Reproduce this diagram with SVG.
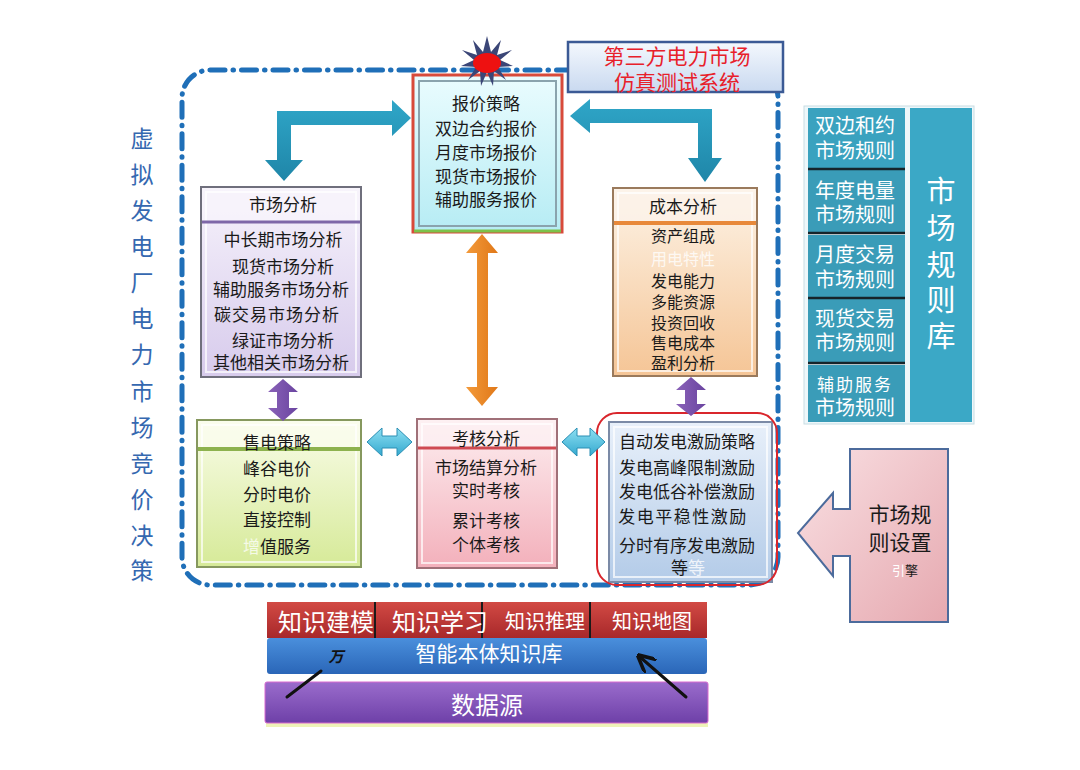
<svg xmlns="http://www.w3.org/2000/svg" width="1080" height="770" viewBox="0 0 1080 770">
<defs>
<style>
text{font-family:"Noto Sans CJK SC","Noto Sans",sans-serif;text-anchor:middle;dominant-baseline:central}
.t{font-size:17px;fill:#1a1a1a}
.c{font-size:16px;fill:#1a1a1a}
.w{fill:#ffffff}
.v{font-size:23px;fill:#3568b0}
.frame{fill:none;stroke:#1f6fb8;stroke-width:5;stroke-linecap:round;stroke-dasharray:15 8 0.5 8}
.ob{stroke:#6f6f7c;stroke-width:2}
.ib{fill:none;stroke:#ffffff;stroke-opacity:0.7;stroke-width:2}
.lib{font-size:20px;fill:#ffffff}
.big{font-size:29px;fill:#ffffff}
</style>
<linearGradient id="gCyan" x1="0" y1="0" x2="0" y2="1"><stop offset="0" stop-color="#eafcfe"/><stop offset="1" stop-color="#b6ecf4"/></linearGradient>
<linearGradient id="gPurple" x1="0" y1="0" x2="0" y2="1"><stop offset="0" stop-color="#f6f2fb"/><stop offset="1" stop-color="#d7cbec"/></linearGradient>
<linearGradient id="gPeach" x1="0" y1="0" x2="0" y2="1"><stop offset="0" stop-color="#fdf3e6"/><stop offset="1" stop-color="#f5c596"/></linearGradient>
<linearGradient id="gGreen" x1="0" y1="0" x2="0" y2="1"><stop offset="0" stop-color="#f9fce8"/><stop offset="1" stop-color="#d6ea98"/></linearGradient>
<linearGradient id="gPink" x1="0" y1="0" x2="0" y2="1"><stop offset="0" stop-color="#fdeef0"/><stop offset="1" stop-color="#f3b0bb"/></linearGradient>
<linearGradient id="gBlue" x1="0" y1="0" x2="0" y2="1"><stop offset="0" stop-color="#e8f0fa"/><stop offset="1" stop-color="#b3cbe8"/></linearGradient>
<linearGradient id="gTitle" x1="0" y1="0" x2="0" y2="1"><stop offset="0" stop-color="#f4f8fd"/><stop offset="1" stop-color="#c9d9f0"/></linearGradient>
<linearGradient id="gSet" x1="0" y1="0" x2="1" y2="1"><stop offset="0" stop-color="#f9e0e3"/><stop offset="1" stop-color="#e6a9b0"/></linearGradient>
<linearGradient id="gRed" x1="0" y1="0" x2="0" y2="1"><stop offset="0" stop-color="#d24a44"/><stop offset="1" stop-color="#a8282a"/></linearGradient>
<linearGradient id="gKB" x1="0" y1="0" x2="0" y2="1"><stop offset="0" stop-color="#4a8fdc"/><stop offset="1" stop-color="#2a66b8"/></linearGradient>
<linearGradient id="gDS" x1="0" y1="0" x2="0" y2="1"><stop offset="0" stop-color="#9a6ccc"/><stop offset="1" stop-color="#6e40a8"/></linearGradient>
<linearGradient id="gTeal" x1="0" y1="0" x2="0" y2="1"><stop offset="0" stop-color="#2fa6c8"/><stop offset="1" stop-color="#1f86a8"/></linearGradient>
<linearGradient id="gOr" x1="0" y1="0" x2="1" y2="0"><stop offset="0" stop-color="#f39a3a"/><stop offset="1" stop-color="#e07818"/></linearGradient>
<linearGradient id="gVi" x1="0" y1="0" x2="1" y2="0"><stop offset="0" stop-color="#8a62b8"/><stop offset="1" stop-color="#6a44a0"/></linearGradient>
<linearGradient id="gSky" x1="0" y1="0" x2="0" y2="1"><stop offset="0" stop-color="#8ddff2"/><stop offset="1" stop-color="#34a9cf"/></linearGradient>
<marker id="pen" viewBox="0 0 10 10" refX="8" refY="5" markerWidth="6" markerHeight="6" orient="auto"><path d="M0,0 L10,5 L0,10" fill="none" stroke="#111" stroke-width="2"/></marker>
</defs>
<rect width="1080" height="770" fill="#ffffff"/>

<!-- dashed frame -->
<rect class="frame" x="182" y="70" width="596" height="515" rx="28"/>

<!-- left vertical title -->
<g id="vtitle">
<text class="v"><tspan x="142" y="137">虚</tspan><tspan x="142" y="173">拟</tspan><tspan x="142" y="209">发</tspan><tspan x="142" y="245">电</tspan><tspan x="142" y="281">厂</tspan><tspan x="142" y="317">电</tspan><tspan x="142" y="353">力</tspan><tspan x="142" y="390">市</tspan><tspan x="142" y="426">场</tspan><tspan x="142" y="462">竞</tspan><tspan x="142" y="498">价</tspan><tspan x="142" y="534">决</tspan><tspan x="142" y="569">策</tspan></text>
</g>

<!-- 报价策略 -->
<g id="bid">
<rect x="413" y="75" width="149" height="157" fill="url(#gCyan)" stroke="#d84a3a" stroke-width="3"/>
<line x1="414" y1="231" x2="561" y2="231" stroke="#7cc24a" stroke-width="3"/>
<rect x="419" y="81" width="137" height="145" fill="none" stroke="#8aa3ad" stroke-width="2"/>
<text class="t"><tspan x="486" y="102">报价策略</tspan><tspan x="486" y="127">双边合约报价</tspan><tspan x="486" y="151">月度市场报价</tspan><tspan x="486" y="175">现货市场报价</tspan><tspan x="486" y="198">辅助服务报价</tspan></text>
</g>

<!-- star -->
<g id="star">
<polygon fill="#3b4677" points="487,36 491,52 501,40 497,55 512,50 500,60 513,66 498,67 506,80 494,71 493,86 487,72 481,86 480,71 468,80 476,67 461,66 474,60 462,50 477,55 473,40 483,52"/>
<ellipse cx="487" cy="63" rx="14" ry="10" fill="#ee1111"/>
</g>

<!-- title -->
<g id="title">
<rect x="568" y="42" width="215" height="50" fill="url(#gTitle)" stroke="#3b5a95" stroke-width="2.5"/>
<text style="font-size:21px;fill:#e8202a"><tspan x="677" y="55">第三方电力市场</tspan><tspan x="677" y="81">仿真测试系统</tspan></text>
</g>

<!-- 市场分析 -->
<g id="market">
<rect x="201" y="187" width="160" height="190" fill="url(#gPurple)" class="ob"/>
<rect x="201" y="187" width="160" height="34" fill="#f7f4fb" opacity="0.8"/>
<rect x="206" y="192" width="150" height="180" class="ib"/>
<line x1="202" y1="222" x2="360" y2="222" stroke="#7e67a8" stroke-width="3"/>
<rect x="201" y="187" width="160" height="190" fill="none" class="ob"/>
<text class="t" x="283" y="203">市场分析</text>
<text class="t"><tspan x="283" y="238">中长期市场分析</tspan><tspan x="283" y="265">现货市场分析</tspan><tspan x="281" y="288">辅助服务市场分析</tspan><tspan x="277" y="313" letter-spacing="1">碳交易市场分析</tspan><tspan x="283" y="339">绿证市场分析</tspan><tspan x="281" y="361">其他相关市场分析</tspan></text>
</g>

<!-- 成本分析 -->
<g id="cost">
<rect x="613" y="188" width="144" height="188" fill="url(#gPeach)" class="ob"/>
<rect x="613" y="188" width="144" height="34" fill="#fbf3ea" opacity="0.8"/>
<rect x="618" y="193" width="134" height="178" class="ib"/>
<line x1="614" y1="223" x2="756" y2="223" stroke="#e8893a" stroke-width="4"/>
<rect x="613" y="188" width="144" height="188" fill="none" stroke="#9a7a5c" stroke-width="2"/>
<text class="t" x="683" y="205">成本分析</text>
<text class="c"><tspan x="683" y="235">资产组成</tspan><tspan x="683" y="258" style="fill:#ffffff;fill-opacity:0.8">用电特性</tspan><tspan x="683" y="280">发电能力</tspan><tspan x="683" y="301">多能资源</tspan><tspan x="683" y="322">投资回收</tspan><tspan x="683" y="342">售电成本</tspan><tspan x="683" y="362">盈利分析</tspan></text>
</g>

<!-- 售电策略 -->
<g id="retail">
<rect x="197" y="420" width="164" height="147" fill="url(#gGreen)" class="ob"/>
<rect x="197" y="420" width="164" height="29" fill="#fafcee" opacity="0.8"/>
<rect x="202" y="425" width="154" height="137" class="ib"/>
<line x1="198" y1="449" x2="360" y2="449" stroke="#8db24e" stroke-width="4"/>
<rect x="197" y="420" width="164" height="147" fill="none" stroke="#86985e" stroke-width="2"/>
<text class="t" x="277" y="441">售电策略</text>
<text class="t"><tspan x="277" y="467">峰谷电价</tspan><tspan x="277" y="493">分时电价</tspan><tspan x="277" y="518">直接控制</tspan><tspan x="277" y="545"><tspan style="fill:#ffffff;fill-opacity:0.75">增</tspan>值服务</tspan></text>
</g>

<!-- 考核分析 -->
<g id="assess">
<rect x="417" y="419" width="140" height="149" fill="url(#gPink)" class="ob"/>
<rect x="417" y="419" width="140" height="29" fill="#fcf0f2" opacity="0.8"/>
<rect x="422" y="424" width="130" height="139" class="ib"/>
<line x1="418" y1="448" x2="556" y2="448" stroke="#cf4a52" stroke-width="3"/>
<rect x="417" y="419" width="140" height="149" fill="none" stroke="#a07078" stroke-width="2"/>
<text class="t" x="486" y="437">考核分析</text>
<text class="t"><tspan x="486" y="466">市场结算分析</tspan><tspan x="486" y="489">实时考核</tspan><tspan x="486" y="519">累计考核</tspan><tspan x="486" y="543">个体考核</tspan></text>
</g>

<!-- 激励策略 -->
<g id="incentive">
<rect x="609" y="422" width="163" height="160" fill="url(#gBlue)" stroke="#7b8aa6" stroke-width="2"/>
<rect x="614" y="427" width="153" height="150" class="ib"/>
<rect x="597" y="413" width="180" height="172" rx="20" fill="none" stroke="#d9262c" stroke-width="2"/>
<text class="t"><tspan x="687" y="440">自动发电激励策略</tspan><tspan x="687" y="466">发电高峰限制激励</tspan><tspan x="687" y="490">发电低谷补偿激励</tspan><tspan x="683" y="515" letter-spacing="1.5">发电平稳性激励</tspan><tspan x="687" y="544">分时有序发电激励</tspan><tspan x="688" y="566">等<tspan style="fill:#ffffff;fill-opacity:0.8">等</tspan></tspan></text>
</g>

<!-- 市场规则库 -->
<g id="rules">
<rect x="804" y="106" width="170" height="318" fill="#eef7fa" stroke="#c8dde4" stroke-width="1"/>
<rect x="910" y="108" width="62" height="314" fill="#3ba8c6"/>
<rect x="808" y="108" width="97" height="60" fill="#3aa2bf"/>
<rect x="808" y="170" width="97" height="62" fill="#3a9cb8"/>
<rect x="808" y="235" width="97" height="62" fill="#3a9cb8"/>
<rect x="808" y="299" width="97" height="63" fill="#3a9cb8"/>
<rect x="808" y="365" width="97" height="57" fill="#3a9cb8"/>
<g stroke="#16242a" stroke-width="2.5">
<line x1="808" y1="169" x2="905" y2="169"/>
<line x1="808" y1="233" x2="905" y2="233"/>
<line x1="808" y1="298" x2="905" y2="298"/>
<line x1="808" y1="363" x2="905" y2="363"/>
</g>
<text class="lib"><tspan x="855" y="124">双边和约</tspan><tspan x="855" y="149">市场规则</tspan></text>
<text class="lib"><tspan x="855" y="189">年度电量</tspan><tspan x="855" y="213">市场规则</tspan></text>
<text class="lib"><tspan x="855" y="253">月度交易</tspan><tspan x="855" y="278">市场规则</tspan></text>
<text class="lib"><tspan x="855" y="317">现货交易</tspan><tspan x="855" y="341">市场规则</tspan></text>
<text class="lib"><tspan x="855" y="383" style="font-size:17px" letter-spacing="2">辅助服务</tspan><tspan x="855" y="406">市场规则</tspan></text>
<text class="big"><tspan x="941" y="189">市</tspan><tspan x="941" y="226">场</tspan><tspan x="941" y="263">规</tspan><tspan x="941" y="298">则</tspan><tspan x="941" y="334">库</tspan></text>
</g>

<!-- 市场规则设置引擎 -->
<g id="settings">
<polygon fill="url(#gSet)" stroke="#4c6b9c" stroke-width="2" points="850,449 948,449 948,622 850,622 850,556 833,556 833,576 798,533 833,493 833,509 850,509"/>
<text style="font-size:21px;fill:#1a1a1a"><tspan x="900" y="513">市场规</tspan><tspan x="900" y="541">则设置</tspan></text>
<text x="905" y="569" style="font-size:13px;fill:#1a1a1a"><tspan style="fill:#ffffff">引</tspan>擎</text>
</g>

<!-- knowledge layers -->
<g id="knowledge">
<rect x="267" y="602" width="440" height="36" fill="url(#gRed)"/>
<g stroke="#1a1a1a" stroke-width="2">
<line x1="375" y1="602" x2="375" y2="638"/>
<line x1="482" y1="602" x2="482" y2="638"/>
<line x1="590" y1="602" x2="590" y2="638"/>
</g>
<text class="w" x="326" y="620" style="font-size:24px">知识建模</text>
<text class="w" x="440" y="620" style="font-size:24px">知识学习</text>
<text class="w" x="545" y="620" style="font-size:20px">知识推理</text>
<text class="w" x="652" y="620" style="font-size:20px">知识地图</text>
</g>
<g id="ontology">
<rect x="267" y="638" width="440" height="36" rx="3" fill="url(#gKB)"/>
<text class="w" x="489" y="652" style="font-size:21px">智能本体知识库</text>
<text x="336" y="655" style="font-size:15px;fill:#111;font-style:italic;font-weight:bold">万</text>
</g>
<g id="datasource">
<rect x="266" y="723" width="442" height="4" fill="#eef3b8"/>
<rect x="265" y="682" width="443" height="41" rx="2" fill="url(#gDS)" stroke="#d86bd0" stroke-width="1"/>
<text class="w" x="487" y="703" style="font-size:24px">数据源</text>
</g>

<!-- connectors -->
<g id="connectors">
<polygon fill="url(#gTeal)" points="277,111 392,111 392,100 411,118 392,136 392,125 291,125 291,160 303,160 284,181 265,160 277,160"/>
<polygon fill="url(#gTeal)" points="570,116 590,99 590,109 712,109 712,158 722,158 705,182 688,158 698,158 698,123 590,123 590,133"/>
<polygon fill="url(#gOr)" points="482,234 466,253 477,253 477,387 466,387 482,406 498,387 488,387 488,253 498,253"/>
<polygon fill="url(#gVi)" points="283,379 268,392 277,392 277,408 268,408 283,421 298,408 289,408 289,392 298,392"/>
<polygon fill="url(#gVi)" points="691,377 676,390 685,390 685,404 676,404 691,416 706,404 697,404 697,390 706,390"/>
<polygon fill="url(#gSky)" stroke="#2b8fb4" stroke-width="1" points="367,442 382,428 382,436 397,436 397,428 412,442 397,456 397,448 382,448 382,456"/>
<polygon fill="url(#gSky)" stroke="#2b8fb4" stroke-width="1" points="562,442 577,428 577,436 590,436 590,428 605,442 590,456 590,448 577,448 577,456"/>
<line x1="287" y1="697" x2="321" y2="671" stroke="#111" stroke-width="3" stroke-linecap="round"/>
<line x1="686" y1="697" x2="640" y2="657" stroke="#111" stroke-width="3" stroke-linecap="round" marker-end="url(#pen)"/>
</g>
</svg>
